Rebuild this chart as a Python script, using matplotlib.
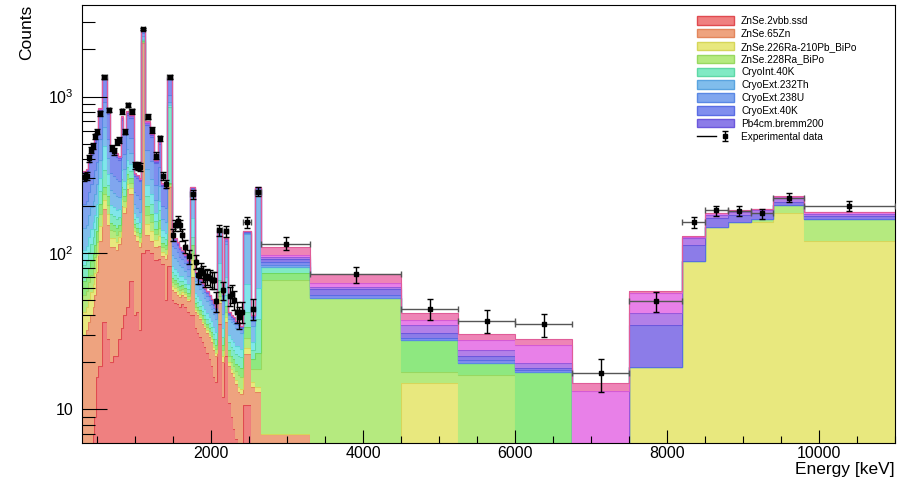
import numpy as np
import matplotlib
matplotlib.use('Agg')
import matplotlib.pyplot as plt
from matplotlib.patches import Patch
from matplotlib.lines import Line2D
from matplotlib.legend_handler import HandlerTuple
from matplotlib.ticker import FixedLocator, FixedFormatter, MultipleLocator, LogLocator, NullFormatter

plt.rcParams['font.family'] = ['Liberation Sans', 'DejaVu Sans']
plt.rcParams['mathtext.fontset'] = 'custom'
plt.rcParams['mathtext.rm'] = 'Liberation Sans'

# bin edges in keV (variable width, as in the reference)
edges = [300, 350, 385, 410, 440, 462, 484, 515, 560, 630, 673, 708, 744, 774, 810, 845, 884, 924, 981,
         1016, 1052, 1078, 1135, 1197, 1250, 1298, 1346, 1395, 1421, 1483,
         1515, 1545, 1575, 1605, 1640, 1680, 1725,
         1785,
         1815, 1845, 1875, 1905, 1935, 1965, 1995, 2025, 2050, 2075,
         2140, 2165, 2225,
         2260, 2290, 2320, 2350, 2385, 2415,
         2530, 2580, 2660,
         3300, 4500, 5250, 6000, 6750, 7500, 8200, 8500, 8800, 9100, 9400, 9800, 11000]

znse_2vbb = [0, 0, 0, 0, 7, 9, 16, 19, 36, 28, 20, 22, 22, 28, 33, 40, 45, 66, 40, 42, 32, 100, 105, 100, 90, 91, 85, 50, 82,
             50, 48, 47, 45, 47, 45, 42,
             40,
             33, 31, 29, 27, 25, 23, 21, 19, 16, 15,
             35, 12, 22,
             11, 9, 7.5, 6.5, 0, 0,
             10.7, 0, 0,
             0, 0, 0, 0, 0, 0, 0, 0, 0, 0, 0, 0, 0]
znse_65zn = [30, 32, 36, 40, 38, 45, 60, 100, 154, 122, 90, 88, 83, 87, 167, 140, 210, 174, 90, 78, 78, 2100, 25, 20, 20, 20, 10, 42, 183,
             8, 8, 7, 7, 7, 7, 7,
             30,
             9, 9, 9, 8, 8, 8, 8, 8, 8, 7,
             13, 8, 14,
             8, 8, 8.5, 8, 13, 12.5,
             12, 14, 13,
             7, 0, 0, 0, 0, 0, 0, 0, 0, 0, 0, 0, 0]
znse_226ra = [12, 13, 15, 16, 18, 20, 21, 29, 29, 27, 15, 14, 13, 12, 22, 17, 22, 21, 8, 8, 8, 20, 23, 19, 11, 17, 7, 7, 5,
              3.6, 3.5, 3.2, 2.9, 2.6, 2.3, 2,
              20,
              1.4, 1.3, 1.2, 1.2, 1.1, 1, 1, 1, 1, 0.9,
              2, 2, 3,
              1, 1, 1, 1, 1, 1,
              2, 1, 1,
              0, 0, 14.7, 0, 0, 0, 18.8, 89.3, 146, 158.5, 158.5, 180, 120]
znse_228ra = [12, 12, 14, 16, 18, 20, 21, 29, 21, 27, 15, 14, 13, 12, 22, 17, 22, 21, 8, 8, 8, 20, 23, 19, 11, 17, 7, 7, 5,
              3.6, 3.5, 3.2, 2.9, 2.6, 2.3, 2,
              10,
              2, 1.9, 1.8, 1.7, 1.6, 1.6, 1.5, 1.4, 1.4, 1.4,
              3, 2, 3,
              2, 2, 2, 2, 2.5, 2.5,
              4, 3, 4,
              60, 51.3, 2.7, 16.6, 0, 0, 0, 0, 0, 0, 5.5, 23, 45]
green_extra = [12, 13, 15, 17, 18, 19, 21, 29, 25, 27, 15, 14, 13, 12, 22, 17, 22, 21, 8, 8, 8, 25, 23, 19, 11, 17, 7, 7, 5,
               4.3, 4.1, 3.8, 3.5, 3.1, 2.8, 2.5,
               12,
               2.4, 2.2, 2.1, 2, 1.9, 1.8, 1.8, 1.7, 1.7, 1.6,
               4, 2, 4,
               2, 2, 2, 2, 2.5, 2.5,
               5, 3, 5,
               7, 0, 10.4, 3.1, 17.4, 0, 0, 0, 0, 0, 0, 0, 0]
cryoint_40k = [18, 19, 22, 25, 27, 29, 31, 43, 75, 40, 22, 21, 20, 18, 33, 26, 33, 31, 12, 12, 11, 40, 34, 28, 17, 25, 11, 10, 583,
               5.8, 5.5, 5.1, 4.6, 4.1, 3.7, 3.3,
               15,
               3.4, 3.2, 3, 2.9, 2.7, 2.6, 2.5, 2.4, 2.4, 2.3,
               10, 3, 8,
               3, 3, 3, 3, 3, 3,
               8, 3, 15,
               7.7, 0, 0, 0, 0, 0, 0, 0, 0, 0, 0, 0, 0]
cyan_extra = [21, 22, 25, 29, 31, 34, 37, 51, 140, 47, 26, 24, 23, 21, 38, 30, 38, 37, 14, 14, 13, 40, 39, 32, 20, 29, 13, 12, 20,
              7.2, 6.9, 6.4, 5.8, 5.1, 4.6, 4.1,
              40,
              4.4, 4.2, 3.9, 3.8, 3.5, 3.4, 3.2, 3.1, 3.1, 3,
              19, 4, 16,
              3, 3, 3, 3, 3.5, 3,
              22, 3, 22,
              0, 0, 0, 0, 0, 0, 0, 0, 0, 0, 0, 0, 0]
cryoext_232th = [40, 41, 47, 53, 58, 64, 68, 94, 160, 87, 49, 45, 43, 39, 71, 56, 71, 68, 25, 25, 25, 100, 73, 60, 37, 54, 24, 23, 46,
                 14.4, 13.8, 12.8, 11.6, 10.2, 9.2, 8.2,
                 60,
                 10.2, 9.6, 9, 8.7, 8.1, 7.8, 7.5, 7.2, 7.2, 6.9,
                 45, 8, 45,
                 8, 8, 8, 7.5, 7, 6.5,
                 68, 7, 190,
                 0, 0, 0, 0, 0, 0, 0, 0, 0, 0, 0, 0, 0]
cryoext_238u = [61, 62, 73, 82, 89, 98, 105, 145, 289, 134, 75, 69, 66, 60, 109, 87, 110, 105, 39, 39, 38, 120, 113, 93, 57, 83, 37, 35, 100,
                14.4, 13.8, 12.8, 11.6, 10.2, 9.2, 8.2,
                25,
                5.1, 4.8, 4.5, 4.4, 4.1, 3.9, 3.8, 3.6, 3.6, 3.5,
                5, 8, 5,
                2, 2, 2, 2, 2, 2,
                3, 3, 6,
                2.1, 0, 0, 0, 0, 0, 0, 0, 0, 0, 0, 0, 0]
cryoext_40k = [109.3, 111.3, 129.3, 145.8, 157.7, 175, 185.9, 257, 361, 239.6, 133, 123.1, 117.5, 105.6, 194.2, 154.7, 194.9,
               185.9, 67.7, 68.4, 66.7, 65, 199, 163.5, 100.9, 147.6, 65.4, 61.9, 280,
               13, 12.4, 11.5, 10.4, 9.2, 8.3, 7.4,
               8,
               3.4, 3.2, 3, 2.9, 2.7, 2.6, 2.5, 2.4, 2.4, 2.3,
               2, 4, 2,
               1, 1, 1, 1, 1, 0.5,
               1.5, 2, 4,
               4.1, 2.6, 1.0, 1.0, 0.4, 0, 0, 0, 0, 0, 0, 0, 0]
pb4cm_bremm = [9, 9, 11, 12, 13, 15, 16, 22, 15, 20, 11, 10, 10, 9, 16, 13, 16, 16, 6, 6, 6, 10, 17, 14, 9, 13, 6, 5, 10,
               2.2, 2.1, 1.9, 1.7, 1.5, 1.4, 1.2,
               2,
               0.7, 0.6, 0.6, 0.6, 0.5, 0.5, 0.5, 0.5, 0.5, 0.5,
               1, 1, 1,
               0.5, 0.5, 0.5, 0.5, 0.3, 0.3,
               1, 0.5, 2,
               3.3, 4.7, 1.8, 1.2, 0.6, 0, 15.8, 23.2, 21, 16.5, 17, 10, 8]
purple_extra = [4.5, 4.5, 5.5, 6, 6.5, 7.5, 8, 11, 13, 10, 5.5, 5, 5, 4.5, 8, 6.5, 8, 8, 3, 3, 3, 5, 8.5, 7, 4.5, 6.5, 3, 2.5, 8,
                1.4, 1.4, 1.3, 1.2, 1, 0.9, 0.8,
                2,
                0.5, 0.5, 0.45, 0.45, 0.4, 0.4, 0.4, 0.4, 0.4, 0.35,
                1, 0.5, 0.5,
                0.3, 0.3, 0.3, 0.3, 0.1, 0.1,
                0.8, 0.3, 2,
                3, 2.3, 4.0, 2.0, 1.3, 0, 6.5, 11.6, 8, 9, 7, 11, 5]
magenta_extra = [3.5, 3.5, 3.9, 4.6, 4.9, 5.3, 5.6, 7.7, 14, 7.4, 4.2, 3.9, 3.5, 3.2, 6, 4.9, 6.3, 5.6, 1.8, 2.1, 1.8, 3.5, 6,
                 4.9, 3.2, 4.6, 2.1, 2.1, 8,
                 1.4, 1.3, 1.3, 1.2, 1, 0.9, 0.9,
                 1,
                 0.3, 0.3, 0.3, 0.25, 0.3, 0.3, 0.2, 0.2, 0.2, 0.2,
                 0.5, 0.3, 0.3,
                 0.1, 0.1, 0.1, 0.1, 0.05, 0.05,
                 0.6, 0.1, 1,
                 3, 3.1, 2.7, 3.9, 6.1, 13.1, 14.1, 3, 4, 2.5, 2.5, 5, 4]
pink_extra = [2.7, 2.7, 3.3, 3.6, 3.9, 4.2, 4.5, 6.3, 10, 6, 3.3, 3, 3, 2.7, 4.8, 3.9, 4.8, 4.5, 1.5, 1.5, 1.5, 1.5, 4.5, 3.6,
              2.4, 3.3, 1.5, 1.5, 5,
              0.7, 0.7, 0.7, 0.6, 0.4, 0.4, 0.4,
              1,
              0.2, 0.2, 0.15, 0.1, 0.1, 0.1, 0.1, 0.1, 0.1, 0.05,
              0.5, 0.2, 0.2,
              0.1, 0.1, 0.1, 0.1, 0.05, 0.05,
              0.4, 0.1, 1,
              11.6, 9.1, 3.8, 2.4, 2.3, 1.6, 1.9, 1.9, 2, 1.5, 1.5, 3, 2]

# experimental data and its errors
data_counts = [305, 312, 404, 456, 484, 556, 598, 781, 1340, 822, 469, 447, 516, 527, 804, 598, 883, 804, 365, 360, 355,
               2700, 743, 613, 420, 540, 310, 276, 1340,
               131, 150, 160, 150, 130, 110, 95,
               238,
               88, 72, 78, 74, 69, 71, 69, 67, 67, 49,
               140, 58, 138,
               53, 55, 50, 42, 39, 42,
               158, 44, 247,
               115, 73, 44, 37, 35, 17, 49, 157, 187, 186, 179, 226, 201]
data_err = [17.5, 17.7, 20, 21, 22, 23.6, 24.5, 28, 36.6, 28.7, 21.7, 21.1, 22.7, 23, 28.4, 24.5, 29.7, 28.4, 19.1, 19, 18.8,
            52, 27.3, 24.8, 20.5, 23.2, 17.6, 16.6, 36.6,
            11.4, 12.2, 12.6, 12.2, 11.4, 10.5, 9.7,
            15.4,
            9.4, 8.5, 8.8, 8.6, 8.3, 8.4, 8.3, 8.2, 8.2, 7,
            11.8, 7.6, 11.7,
            7.3, 7.4, 7.1, 6.5, 6.2, 6.5,
            12.6, 6.6, 15.7,
            10.7, 8.5, 6.6, 6.1, 5.9, 4.1, 7, 12.5, 13.7, 13.6, 13.4, 15, 14.2]

# (label, values, fill, outline); label None -> not in legend
components = [
    ('ZnSe.2vbb.ssd', znse_2vbb, '#ef8080', '#e04a50'),
    ('ZnSe.65Zn', znse_65zn, '#eea37f', '#e3865c'),
    ('ZnSe.226Ra-210Pb_BiPo', znse_226ra, '#e8e87e', '#d6d65a'),
    ('ZnSe.228Ra_BiPo', znse_228ra, '#b5ea7f', '#98d860'),
    (None, green_extra, '#8ee880', '#6ed860'),
    ('CryoInt.40K', cryoint_40k, '#80eac4', '#5ed8a6'),
    (None, cyan_extra, '#80e6ea', '#5ad2d8'),
    ('CryoExt.232Th', cryoext_232th, '#80bdec', '#5aa4e0'),
    ('CryoExt.238U', cryoext_238u, '#80a6ee', '#5a88e4'),
    ('CryoExt.40K', cryoext_40k, '#808eee', '#5a6ce4'),
    ('Pb4cm.bremm200', pb4cm_bremm, '#8c7ce8', '#6c58dc'),
    (None, purple_extra, '#b380e8', '#9858dc'),
    (None, magenta_extra, '#e880e8', '#d45ad4'),
    (None, pink_extra, '#ee84b6', '#e05c98'),
]

fig = plt.figure(figsize=(9.02, 4.83), dpi=100)
ax = fig.add_axes([82 / 902, 40 / 483, 813 / 902, 438 / 483])

edges_arr = np.array(edges, dtype=float)
bottom = np.full(len(edges) - 1, 1e-3)
handles = []
for label, vals, face, line in components:
    top = bottom + np.array(vals, dtype=float)
    ax.stairs(top, edges_arr, baseline=bottom, fill=True, facecolor=face, edgecolor='none', lw=0)
    ax.stairs(top, edges_arr, baseline=None, color=line, lw=0.8)
    if label is not None:
        handles.append(Patch(facecolor=face, edgecolor=line, lw=1, label=label))
    bottom = top

centers = 0.5 * (edges_arr[:-1] + edges_arr[1:])
half = 0.5 * np.diff(edges_arr)
ax.errorbar(centers, data_counts, xerr=half, fmt='none', ecolor='#555555', elinewidth=1, capsize=2, zorder=5)
dat = ax.errorbar(centers, data_counts, yerr=data_err, fmt='s', color='black', ms=3,
                  ecolor='black', elinewidth=1, capsize=2, zorder=6)
handles.append((Line2D([], [], color='black', lw=1), dat))
labels = [h.get_label() for h in handles[:-1]] + ['Experimental data']

ax.set_yscale('log')
ax.set_xlim(300, 11000)
ax.set_ylim(6.1, 3850)

ax.xaxis.set_major_locator(MultipleLocator(2000))
ax.xaxis.set_minor_locator(MultipleLocator(500))
ax.yaxis.set_major_locator(FixedLocator([10, 100, 1000]))
ax.yaxis.set_major_formatter(FixedFormatter(['10', r'$10^{2}$', r'$10^{3}$']))
ax.yaxis.set_minor_locator(LogLocator(base=10, subs=np.arange(2, 10)))
ax.yaxis.set_minor_formatter(NullFormatter())

ax.tick_params(which='both', direction='in', top=False, right=False, labelsize=11.5, width=0.8)
ax.tick_params(axis='x', which='major', length=9.5, pad=2.5)
ax.tick_params(axis='x', which='minor', length=5)
ax.tick_params(axis='y', which='major', length=18, pad=6)
ax.tick_params(axis='y', which='minor', length=9)

ax.set_xlabel('Energy [keV]', fontsize=12.5, loc='right')
ax.xaxis.set_label_coords(1.0, -0.044)
ax.xaxis.label.set_va('top')
ax.set_ylabel('Counts', fontsize=12.5, loc='top')
ax.yaxis.set_label_coords(-0.059, 1.0)

ax.legend(handles, labels, loc='upper left', bbox_to_anchor=(0.757, 0.975), frameon=False,
          fontsize=7.3, handlelength=3.6, handleheight=0.9, handletextpad=0.7, labelspacing=0.28,
          borderpad=0, borderaxespad=0, handler_map={tuple: HandlerTuple(ndivide=None)})

for s in ax.spines.values():
    s.set_linewidth(0.8)

fig.savefig('out.png', dpi=100)
